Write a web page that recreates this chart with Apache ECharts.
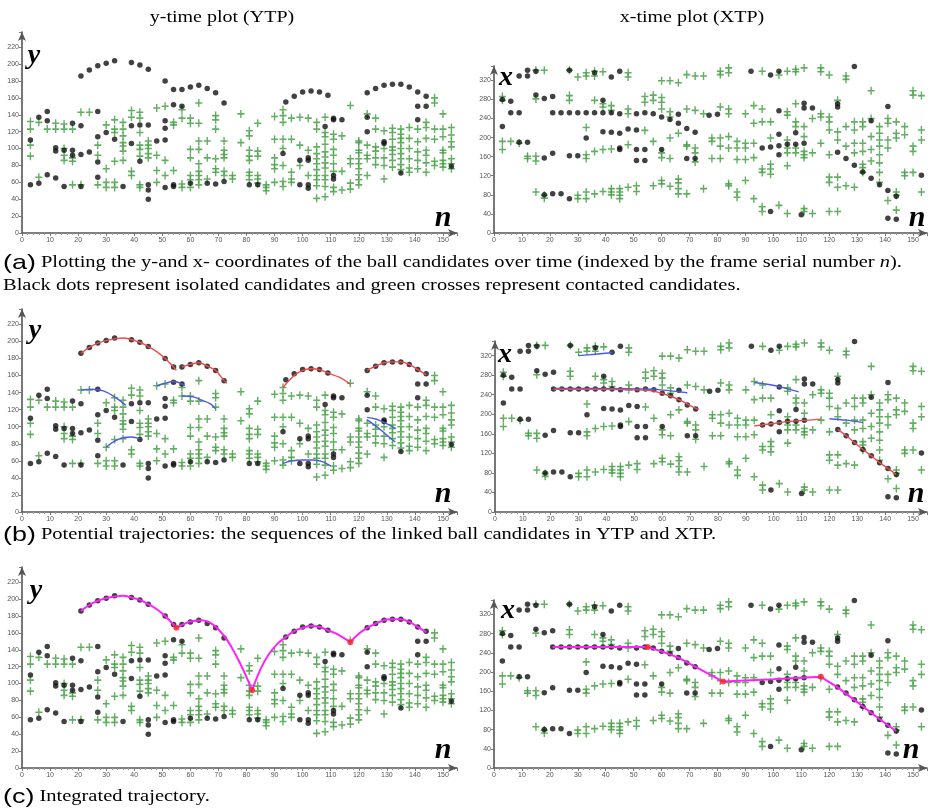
<!DOCTYPE html>
<html>
<head>
<meta charset="utf-8">
<script src="https://cdn.jsdelivr.net/npm/echarts@6/dist/echarts.min.js"></script>
<style>
  html, body { margin: 0; padding: 0; background: #fff; }
  #chart { width: 930px; height: 808px; }
</style>
</head>
<body>
<div id="chart"></div>
<script>
// y-time plot: isolated candidates (black dots)
var ytpDots = [
  [3,110],[3,57],[6,137],[6,59],[9,144],[9,133],[9,69],[12,101],[12,97],[12,65],
  [15,98],[15,55],[18,130],[18,98],[18,92],[21,186],[21,127],[21,93],[21,55],
  [24,193],[24,96],[27,198],[27,144],[27,114],[27,84],[27,66],[30,201],[30,119],
  [33,204],[33,111],[36,55],[39,202],[39,127],[39,106],[42,199],[42,128],[42,85],
  [45,194],[45,128],[45,57],[45,51],[45,40],[48,109],[51,180],[51,133],[51,124],
  [51,110],[51,54],[54,170],[54,152],[54,57],[54,55],[57,170],[57,150],[60,173],
  [60,59],[63,175],[66,171],[66,59],[69,166],[69,58],[72,154],[72,61],[81,57],
  [84,57],[94,155],[93,94],[97,162],[100,167],[99,86],[99,57],[103,168],[102,89],
  [102,86],[102,57],[102,53],[106,167],[109,163],[108,126],[111,136],[111,134],
  [111,68],[111,64],[114,134],[123,166],[123,137],[123,120],[126,171],[129,175],
  [129,108],[129,106],[132,176],[135,176],[135,71],[138,173],[141,167],[141,150],
  [141,134],[144,162],[144,150],[153,79]
];

// y-time plot: contacted candidates (green crosses), one column per frame
var ytpCrossCols = [
  [3,[132,123,104,91]],[6,[131,66]],[9,[123]],[12,[130,123]],[15,[129,123,100,92,86]],
  [18,[123,89,85,57]],[21,[143,57]],[24,[143]],[27,[104,92,57]],[30,[128,76,60,54]],
  [33,[134,123,119,85,60,54]],[36,[131,123,115,107,103,97,86]],[39,[145,137,73,68]],
  [42,[143,136,119,104,99,91,57,54]],[45,[109,104,100,94,89]],[48,[148,92,74,60]],
  [51,[150,86,68]],[54,[131,128,74]],[57,[146,136,58,54]],[60,[136,130,99,89,68,63,54]],
  [63,[154,130,109,99,82,73,68,63,57]],[66,[109,89,64]],[69,[139,134,123,88,76,72]],
  [72,[109,98,93,89,73,68]],[75,[68,64]],[78,[141,107]],[81,[121,115,98,91,86,72,68,63]],
  [84,[130,97,91,68,64,59]],[87,[57,54,50]],[90,[138,111,89,81,76,60]],
  [93,[146,139,131,111,100,80,61,55]],[96,[136,111,72,64,60]],[99,[137,104,80]],
  [102,[136,98,68]],[105,[131,123,102,94,88,82,75,68,63,56,41]],
  [108,[137,119,114,105,96,90,83,77,68,63,55,43]],[111,[117,111,99,92,82,73,54,49]],
  [114,[115,73,51]],[117,[151,88,82,59,52]],[120,[109,107,98,95,88,82,76,69,63,57]],
  [123,[141,104,92,88,68]],[126,[136,123,102,97,89,81]],[129,[121,100,89,80,64]],
  [132,[124,119,111,102,98,93,86,78]],[135,[123,117,112,107,100,94,88,81,75]],
  [138,[125,112,100,88,77,72]],[141,[123,108,96,86,76]],[144,[131,125,112,98,92,83,72]],
  [147,[160,154,123,111,85,80]],[150,[141,123,114,98,95,86,82,78]],
  [153,[125,116,108,102,88,82,76]]
];

// x-time plot: isolated candidates
var xtpDots = [
  [3,280],[3,223],[6,276],[6,252],[9,329],[9,252],[9,190],[12,341],[12,329],[12,190],
  [15,339],[15,289],[18,282],[18,157],[18,80],[21,286],[21,252],[21,167],[21,82],
  [24,252],[24,82],[27,341],[27,252],[27,162],[27,72],[30,252],[30,162],[33,252],
  [33,199],[36,336],[36,252],[39,278],[39,252],[39,212],[42,327],[42,252],[42,211],
  [45,339],[45,250],[45,209],[45,178],[45,175],[48,218],[51,250],[51,216],[51,175],
  [51,152],[54,252],[54,175],[54,152],[57,250],[60,243],[60,175],[63,238],[66,249],
  [66,230],[69,219],[69,156],[72,211],[72,156],[77,247],[80,249],[92,339],[96,178],
  [99,331],[99,180],[99,45],[102,339],[102,256],[102,207],[102,183],[102,164],
  [105,186],[108,210],[108,186],[110,38],[111,272],[111,262],[111,188],[114,262],
  [123,271],[123,264],[123,169],[126,156],[129,349],[129,142],[132,128],[135,235],
  [135,115],[138,101],[141,265],[141,89],[141,31],[144,77],[144,29],[153,121]
];

// x-time plot: contacted candidates
var xtpCrossCols = [
  [3,[286,278,192,175]],[6,[192]],[9,[188]],[12,[161,156]],[15,[341,281,161,151,86]],
  [18,[341,79,73]],[27,[341,288,278]],[30,[327,79,72]],[33,[336,329,221,164,156,86,72]],
  [36,[339,329,278,171,82]],[39,[338,271,264,175,87]],[42,[267,257,176,93,86,80]],
  [45,[93,86,79,72]],[48,[336,327,260,250,185,96]],[51,[99,87]],[54,[286,274,215]],
  [57,[289,278,192,99]],[60,[319,284,274,260,168,158,110,103]],[63,[319,254,243,199,156,98]],
  [66,[315,209,113,105,93,82]],[69,[332,260,185,182,82]],[72,[329,257,178,168,149]],
  [75,[329,250,93]],[78,[199,192,156]],[81,[339,332,264,199,182,156]],
  [84,[346,336,260,250,202,178,103,99]],[87,[192,178,154,86,75]],[90,[250,188,178,154,110]],
  [93,[267,230,188,158,72]],[96,[339,260,233,134,127,55,45]],[99,[233,199,144,134,123]],
  [102,[331,58]],[105,[339,254,247,195,178,168,141,41]],[108,[343,338,271,233,223,178,168]],
  [111,[346,223,202,171,164,158,51,45]],[114,[240,168,41]],[117,[346,338,250,243,188]],
  [120,[331,243,233,216,164,117,106,45]],[123,[278,212,195,117,96,45]],
  [126,[329,322,223,182,99]],[129,[233,216,188,168,96]],[132,[233,223,188,171,144,137,127]],
  [135,[298,240,202,175,151]],[138,[223,209,195,182,164,147,127,106]],
  [141,[240,230,195,178,68]],[144,[233,209,199,86,79,48]],[147,[223,206,127,120]],
  [150,[298,289,182,171,127]],[153,[288,216,195,86]]
];

// (b) potential trajectories
var ytpRedArcs = [
  [[21,186],[24,193],[27,198],[30,201],[33,203],[36,204],[39,202],[42,199],[45,194],[48,188],[51,180],[54,170],[55,166]],
  [[57,170],[60,173],[63,175],[66,171],[69,166],[72,154],[73,151]],
  [[93,146],[97,160],[100,166],[103,168],[106,167],[109,163],[113,158],[117,150]],
  [[123,166],[126,171],[129,175],[132,176],[135,176],[138,173],[141,167],[144,161]]
];
var ytpBlueArcs = [
  [[21,143],[25,144],[29,142],[33,135],[37,125]],
  [[30,76],[33,83],[36,87],[39,88],[42,86]],
  [[48,148],[51,151],[54,153],[58,148]],
  [[57,136],[61,135],[64,131],[67,127],[69,121]],
  [[93,57],[96,60],[100,61],[104,61],[107,59],[110,54]],
  [[123,111],[126,109],[129,105],[133,98]],
  [[123,108],[126,101],[129,93],[133,82]]
];
var xtpRedArcs = [
  [[21,251],[30,251],[40,251],[50,250],[55,249],[58,246],[62,239],[66,230],[69,221],[73,210]],
  [[93,176],[97,179],[101,182],[105,185],[109,187],[113,188],[117,190]],
  [[123,169],[126,156],[129,142],[132,128],[135,115],[138,101],[141,89],[144,77]]
];
var xtpBlueArcs = [
  [[30,320],[36,323],[42,326]],
  [[21,253],[35,253],[50,252],[58,251],[63,248],[69,244]],
  [[93,265],[97,262],[101,258],[105,252],[109,246]],
  [[120,191],[126,188],[132,183]]
];

// (c) integrated trajectory
var ytpMergedParts = [
  [[21,186],[24,193],[27,198],[30,201],[33,203],[36,204],[39,202],[42,199],[45,194],[48,188],[51,180],[55,166]],
  [[55,166],[58,171],[61,174],[64,175],[67,172],[70,164],[73,152],[76,135],[79,115],[82,92]],
  [[82,92],[85,117],[88,135],[91,147],[94,155],[97,162],[100,166],[103,168],[106,167],[109,163],[112,159],[117,149]],
  [[117,149],[120,159],[123,166],[126,171],[129,175],[132,176],[135,176],[138,173],[141,167],[144,161]]
];
var ytpJoints = [[55,166],[82,92],[117,149]];
var xtpMerged = [[21,252],[55,252],[60,243],[66,230],[72,211],[82,180],[100,185],[117,190],[123,168],[129,142],[135,115],[141,89],[144,77]];
var xtpJoints = [[55,252],[82,180],[117,190]];

var CROSS = 'path://M4,0H6V4H10V6H6V10H4V6H0V4H4Z';
var FONT_SERIF = '"Liberation Serif", "DejaVu Serif", serif';

// panel order: a-left, a-right, b-left, b-right, c-left, c-right
var panelGrids = [
  { left: 22, top: 32, width: 435, height: 201 },
  { left: 494, top: 66, width: 433, height: 167 },
  { left: 22, top: 309, width: 435, height: 203 },
  { left: 495, top: 341, width: 433, height: 171 },
  { left: 22, top: 567, width: 435, height: 201 },
  { left: 494, top: 600, width: 433, height: 168 }
];

function flatCols(cols) {
  let out = [];
  cols.forEach(function (c) {
    c[1].forEach(function (v) { out.push([c[0], v]); });
  });
  return out;
}

function makeXAxis(i) {
  return {
    gridIndex: i, type: 'value', min: 0, max: 155, interval: 10,
    axisLine: { show: true, symbol: ['none', 'arrow'], symbolSize: [6, 9], lineStyle: { color: '#555', width: 1.6 } },
    axisTick: { show: true, length: 3, lineStyle: { color: '#777' } },
    minorTick: { show: true, splitNumber: 5, length: 2, lineStyle: { color: '#999' } },
    axisLabel: { fontSize: 7, color: '#555', margin: 4, fontFamily: 'Liberation Sans',
      formatter: function (v) { return v % 10 === 0 ? v : ''; } },
    splitLine: { show: false }
  };
}

function makeYAxis(i, isY) {
  let step = isY ? 20 : 40;
  return {
    gridIndex: i, type: 'value', min: 0, max: isY ? 238 : 350, interval: step,
    axisLine: { show: true, symbol: ['none', 'arrow'], symbolSize: [6, 9], lineStyle: { color: '#555', width: 1.6 } },
    axisTick: { show: true, length: 3, lineStyle: { color: '#777' } },
    axisLabel: { fontSize: 7, color: '#555', margin: 3, fontFamily: 'Liberation Sans',
      formatter: function (v) { return v % step === 0 ? v : ''; } },
    splitLine: { show: false }
  };
}

function crossSeries(i, data) {
  return { type: 'scatter', xAxisIndex: i, yAxisIndex: i, data: data, symbol: CROSS,
    symbolSize: [7, 8], itemStyle: { color: '#46a046', opacity: 0.85 }, silent: true, z: 2 };
}

function dotSeries(i, data) {
  return { type: 'scatter', xAxisIndex: i, yAxisIndex: i, data: data, symbol: 'circle',
    symbolSize: 5.5, itemStyle: { color: '#111' }, silent: true, z: 3 };
}

function lineSeries(i, data, color, width, smooth) {
  return { type: 'line', xAxisIndex: i, yAxisIndex: i, data: data, showSymbol: false,
    smooth: smooth, lineStyle: { color: color, width: width }, silent: true, z: 4 };
}

var ytpCrosses = flatCols(ytpCrossCols);
var xtpCrosses = flatCols(xtpCrossCols);

var series = [];
var xAxes = [];
var yAxes = [];
for (let i = 0; i < 6; i++) {
  let isY = i % 2 === 0;
  xAxes.push(makeXAxis(i));
  yAxes.push(makeYAxis(i, isY));
  series.push(crossSeries(i, isY ? ytpCrosses : xtpCrosses));
  series.push(dotSeries(i, isY ? ytpDots : xtpDots));
}

// row b overlays
ytpBlueArcs.forEach(function (d) { series.push(lineSeries(2, d, '#4a5ae6', 1.4, 0.4)); });
ytpRedArcs.forEach(function (d) { series.push(lineSeries(2, d, '#f04a4a', 1.4, 0.4)); });
xtpBlueArcs.forEach(function (d) { series.push(lineSeries(3, d, '#4a5ae6', 1.4, 0.3)); });
xtpRedArcs.forEach(function (d) { series.push(lineSeries(3, d, '#f04a4a', 1.4, 0.3)); });

// row c overlays
ytpMergedParts.forEach(function (d) { series.push(lineSeries(4, d, '#ff1fff', 2, 0.4)); });
series.push(lineSeries(5, xtpMerged, '#ff1fff', 2, false));
series.push({ type: 'scatter', xAxisIndex: 4, yAxisIndex: 4, data: ytpJoints, symbolSize: 6,
  itemStyle: { color: '#ff2020' }, silent: true, z: 5 });
series.push({ type: 'scatter', xAxisIndex: 5, yAxisIndex: 5, data: xtpJoints, symbolSize: 6,
  itemStyle: { color: '#ff2020' }, silent: true, z: 5 });

function txt(x, y, text, font, align, scaleX) {
  return { type: 'text', x: x, y: y, scaleX: scaleX || 1, z: 10, silent: true,
    style: { text: text, font: font, fill: '#000', align: align || 'left', verticalAlign: 'middle' } };
}

function richTxt(x, y, text) {
  return { type: 'text', x: x, y: y, scaleX: 1.28, z: 10, silent: true,
    style: { text: text, fill: '#000', verticalAlign: 'middle',
      font: '16px ' + FONT_SERIF,
      rich: {
        lab: { fontSize: 21, fontFamily: '"Liberation Sans Narrow", "Liberation Sans", sans-serif' },
        it: { fontSize: 16, fontStyle: 'italic', fontFamily: FONT_SERIF }
      } } };
}

var axisLetterFont = 'italic bold 28px ' + FONT_SERIF;
var bigN = 'italic bold 30px ' + FONT_SERIF;

var graphics = [
  txt(222, 18, 'y-time plot (YTP)', '16px ' + FONT_SERIF, 'center', 1.25),
  txt(692, 18, 'x-time plot (XTP)', '16px ' + FONT_SERIF, 'center', 1.25),
  richTxt(3, 263, '{lab|(a)} Plotting the y-and x- coordinates of the ball candidates over time (indexed by the frame serial number {it|n}).'),
  richTxt(3, 286, 'Black dots represent isolated candidates and green crosses represent contacted candidates.'),
  richTxt(3, 535, '{lab|(b)} Potential trajectories: the sequences of the linked ball candidates in YTP and XTP.'),
  richTxt(3, 797, '{lab|(c)} Integrated trajectory.'),
  txt(34, 56, 'y', axisLetterFont, 'center'),
  txt(443, 218, 'n', bigN, 'center'),
  txt(506, 78, 'x', axisLetterFont, 'center'),
  txt(917, 218, 'n', bigN, 'center'),
  txt(35, 331, 'y', axisLetterFont, 'center'),
  txt(443, 494, 'n', bigN, 'center'),
  txt(36, 591, 'y', axisLetterFont, 'center'),
  txt(443, 750, 'n', bigN, 'center'),
  txt(505, 355, 'x', axisLetterFont, 'center'),
  txt(916, 494, 'n', bigN, 'center'),
  txt(508, 611, 'x', axisLetterFont, 'center'),
  txt(911, 750, 'n', bigN, 'center')
];

var myChart = echarts.init(document.getElementById('chart'), null, { renderer: 'canvas' });
var option = {
  animation: false,
  backgroundColor: '#fff',
  grid: panelGrids,
  xAxis: xAxes,
  yAxis: yAxes,
  series: series,
  graphic: graphics
};
myChart.setOption(option);
</script>
</body>
</html>
